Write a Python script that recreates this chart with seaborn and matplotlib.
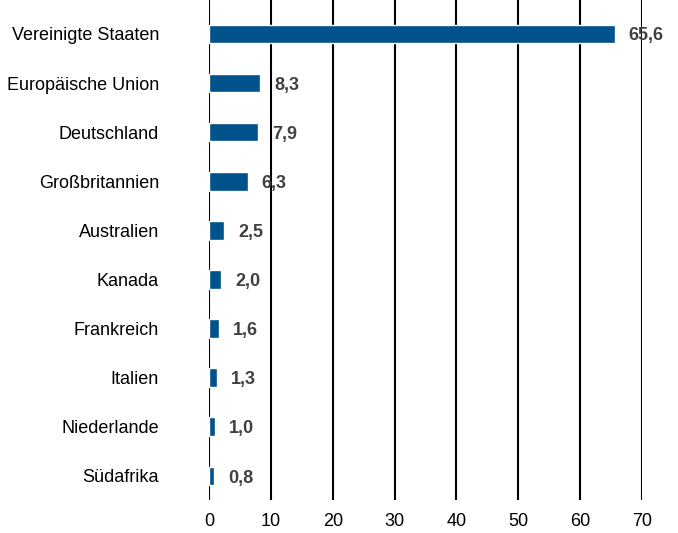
import pandas as pd
import numpy as np
import matplotlib
matplotlib.use("Agg")
import matplotlib.pyplot as plt
import seaborn as sns

#Daten
laender = ["Vereinigte Staaten", "Europäische Union", "Deutschland", "Großbritannien",
           "Australien", "Kanada", "Frankreich", "Italien", "Niederlande", "Südafrika"]
werte = [65.6, 8.3, 7.9, 6.3, 2.5, 2.0, 1.6, 1.3, 1.0, 0.8]
x_ticks = [0, 10, 20, 30, 40, 50, 60, 70]

df = pd.DataFrame({"land": laender, "wert": werte})

sns.set_style("white")
plt.rcParams['font.family'] = ['Liberation Sans Narrow', 'Liberation Sans', 'DejaVu Sans']

fig = plt.figure(figsize=(6.78, 5.33), dpi=100)
ax = fig.add_axes([209/678, 1 - 500/533, (642 - 209)/678, 500/533])

sns.barplot(data=df, x="wert", y="land", orient="h", color="#00528a",
            saturation=1, width=0.38, ax=ax)

#Gitterlinien
for t in x_ticks:
    ax.axvline(t, color="black", linewidth=1.5, zorder=0)

#Werte beschriften
for i, v in enumerate(werte):
    ax.annotate(f"{v:.1f}".replace(".", ","), xy=(v, i), xytext=(10, -1.5),
                textcoords="offset points", va="center", ha="left",
                fontsize=13, fontweight="bold", color="#404040")

ax.set_xlim(0, 70)
ax.set_ylim(9.49, -0.69)
ax.set_xticks(x_ticks)
ax.set_xlabel("")
ax.set_ylabel("")
ax.tick_params(axis="x", length=0, pad=9, labelsize=13, colors="black")
ax.tick_params(axis="y", length=0, pad=36, labelsize=13, colors="black")
sns.despine(ax=ax, left=True, bottom=True)

fig.savefig("out.png", dpi=100)
